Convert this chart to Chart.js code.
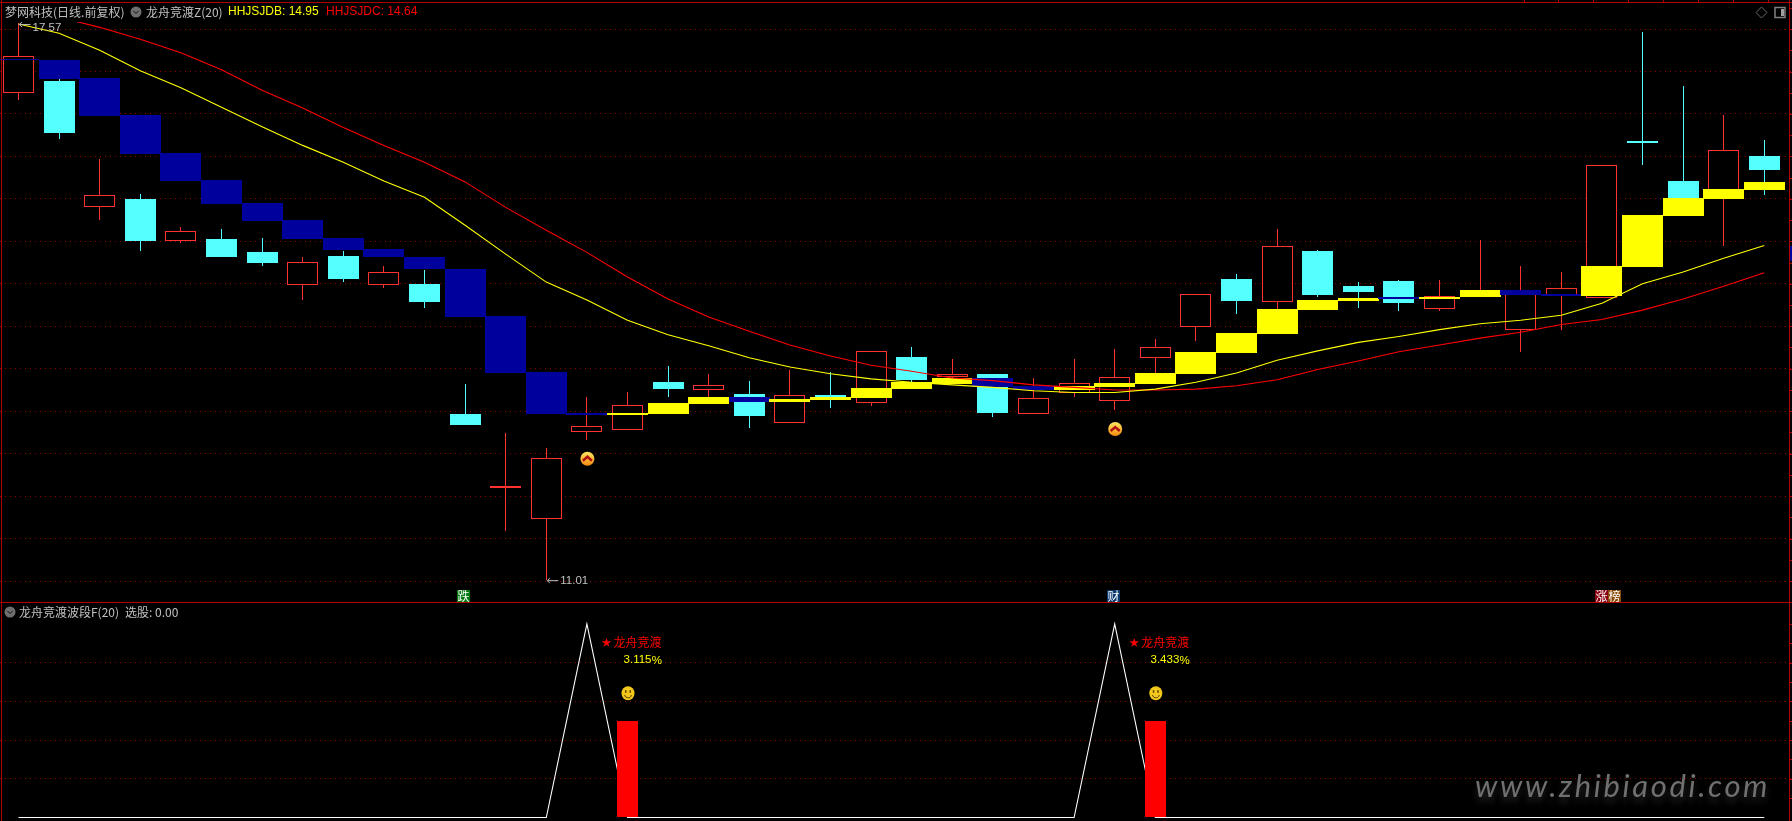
<!DOCTYPE html>
<html>
<head>
<meta charset="utf-8">
<title>龙舟竞渡</title>
<script src="https://cdn.jsdelivr.net/npm/chart.js@4/dist/chart.umd.min.js"></script>
<style>
html, body { margin: 0; padding: 0; background: #000; overflow: hidden; }
#wrapTop { position: absolute; left: 0; top: 0; width: 1792px; height: 603px; }
#wrapBottom { position: absolute; left: 0; top: 603px; width: 1792px; height: 218px; }
canvas { display: block; }
</style>
</head>
<body>
<div id="wrapTop"><canvas id="chartPrice"></canvas></div>
<div id="wrapBottom"><canvas id="chartBand"></canvas></div>
<script>
//Daily candles
const openPrices = [16.75, 16.89, 15.40, 15.50, 15.00, 15.03, 14.87, 14.49, 14.83, 14.49, 14.50, 12.97, 12.10, 11.73, 12.75, 12.78, 13.34, 13.25, 13.20, 12.86, 13.19, 13.10, 13.64, 13.40, 13.44, 12.97, 13.21, 13.12, 13.63, 13.99, 14.56, 14.29, 14.89, 14.47, 14.53, 14.20, 14.35, 13.96, 14.37, 14.33, 16.18, 15.71, 15.55, 16.00];
const closePrices = [17.18, 16.28, 15.55, 15.00, 15.12, 14.82, 14.74, 14.76, 14.56, 14.64, 14.28, 12.84, 12.12, 12.45, 12.83, 13.07, 13.26, 13.31, 12.94, 13.19, 13.13, 13.71, 13.37, 13.44, 12.98, 13.16, 13.33, 13.40, 13.76, 14.38, 14.30, 14.95, 14.37, 14.40, 14.27, 14.36, 14.43, 14.43, 14.45, 15.90, 16.16, 15.43, 16.07, 15.84];
const highPrices = [17.57, 16.91, 15.97, 15.56, 15.17, 15.15, 15.04, 14.82, 14.89, 14.71, 14.66, 13.32, 12.74, 12.57, 13.17, 13.22, 13.53, 13.44, 13.36, 13.49, 13.46, 13.71, 13.76, 13.61, 13.44, 13.39, 13.61, 13.73, 13.85, 14.38, 14.62, 15.15, 14.90, 14.52, 14.55, 14.55, 15.02, 14.71, 14.64, 15.90, 17.47, 16.83, 16.49, 16.19];
const lowPrices = [16.66, 16.21, 15.25, 14.89, 14.98, 14.82, 14.71, 14.31, 14.52, 14.45, 14.21, 12.84, 11.59, 11.01, 12.66, 12.78, 13.17, 13.17, 12.80, 12.86, 13.04, 13.06, 13.34, 13.32, 12.93, 12.97, 13.17, 13.01, 13.45, 13.83, 14.15, 14.20, 14.35, 14.21, 14.18, 14.18, 14.35, 13.70, 13.96, 14.33, 15.90, 15.43, 14.95, 15.54];

//Indicator blocks (blue when falling, yellow when rising)
const bandOpen = [17.15, 17.14, 16.92, 16.49, 16.04, 15.72, 15.45, 15.25, 15.04, 14.91, 14.82, 14.67, 14.12, 13.46, 12.98, 12.95, 12.97, 13.09, 13.17, 13.11, 13.13, 13.16, 13.26, 13.32, 13.39, 13.30, 13.25, 13.28, 13.32, 13.44, 13.69, 13.91, 14.19, 14.30, 14.34, 14.32, 14.34, 14.43, 14.38, 14.36, 14.70, 15.30, 15.50, 15.60];
const bandClose = [17.14, 16.91, 16.48, 16.03, 15.71, 15.44, 15.24, 15.03, 14.90, 14.81, 14.67, 14.11, 13.45, 12.97, 12.95, 12.98, 13.10, 13.17, 13.11, 13.14, 13.17, 13.27, 13.34, 13.39, 13.28, 13.25, 13.30, 13.33, 13.45, 13.70, 13.92, 14.20, 14.31, 14.33, 14.32, 14.35, 14.43, 14.37, 14.36, 14.71, 15.31, 15.51, 15.62, 15.70];

//Indicator lines
const hhjsjdb = [17.56, 17.45, 17.25, 17.01, 16.81, 16.58, 16.35, 16.13, 15.93, 15.71, 15.52, 15.19, 14.85, 14.52, 14.31, 14.07, 13.90, 13.77, 13.63, 13.52, 13.44, 13.38, 13.34, 13.31, 13.28, 13.24, 13.22, 13.22, 13.26, 13.34, 13.45, 13.60, 13.71, 13.81, 13.88, 13.96, 14.03, 14.07, 14.13, 14.27, 14.50, 14.64, 14.80, 14.95];
const hhjsjdc = [null, 17.64, 17.52, 17.38, 17.22, 17.02, 16.78, 16.57, 16.34, 16.13, 15.93, 15.70, 15.40, 15.13, 14.87, 14.58, 14.32, 14.11, 13.94, 13.78, 13.65, 13.54, 13.47, 13.39, 13.36, 13.31, 13.28, 13.25, 13.25, 13.26, 13.30, 13.37, 13.49, 13.59, 13.70, 13.78, 13.86, 13.93, 14.02, 14.08, 14.19, 14.32, 14.47, 14.63];

//Lower panel
const waveLine = [0, 0, 0, 0, 0, 0, 0, 0, 0, 0, 0, 0, 0, 0, 100, 0, 0, 0, 0, 0, 0, 0, 0, 0, 0, 0, 0, 100, 0, 0, 0, 0, 0, 0, 0, 0, 0, 0, 0, 0, 0, 0, 0, 0];
const signalDays = [15, 28];
const signalValues = [50, 50];
const signalGains = ["3.115", "3.433"];

//Markers and axis values
const arrowDays = [14, 27];
const arrowPrices = [12.44, 12.79];
const priceTicks = [11, 11.5, 12, 12.5, 13, 13.5, 14, 14.5, 15, 15.5, 16, 16.5, 17, 17.5];
const bandTicks = [20, 40, 60, 80];

const GRID = "#8a0000";
const FRAME = "#b00000";
const RED = "#ff3232";
const CYAN = "#54ffff";
const BLUE = "#00009c";
const YELLOW = "#ffff00";
const GRAY = "#c0c0c0";
const CJK = '"Noto Sans CJK SC", sans-serif';
const LATIN = '"Liberation Sans", sans-serif';

const days = openPrices.map((v, i) => i);
const toPoints = (a, b) => days.map((i) => ({ x: i, y: [a[i], b[i]] }));
const toLine = (a) => days.map((i) => ({ x: i, y: a[i] }));
const isUp = (a, b) => (i) => b[i] >= a[i];

// x scale shared by both panels: first candle at px 18.5, 40.6px per day
const xScale = { type: "linear", display: false, offset: false, min: -18.5 / 40.6, max: (1792 - 18.5) / 40.6 };

function yScale(min, max, ticks) {
    return {
        min: min,
        max: max,
        afterBuildTicks: (scale) => { scale.ticks = ticks.map((v) => ({ value: v })); },
        ticks: { display: false },
        border: { display: false, dash: [1, 4] },
        grid: { color: GRID, lineWidth: 1, drawTicks: false },
    };
}

const sharedOptions = {
    responsive: false,
    animation: false,
    events: [],
    layout: { padding: 0 },
    plugins: { legend: { display: false }, tooltip: { enabled: false } },
};

// bars land on whole pixels so the boxes stay crisp
const snapBars = {
    id: "snapBars",
    beforeDatasetsDraw(chart) {
        chart.data.datasets.forEach((ds, n) => {
            if (ds.type !== "bar") return;
            chart.getDatasetMeta(n).data.forEach((el) => {
                el.x = Math.floor(el.x) + 0.5;
                el.y = Math.round(el.y);
                el.base = Math.round(el.base);
            });
        });
    },
};

function text(ctx, str, x, y, color, font, align) {
    ctx.fillStyle = color;
    ctx.font = font;
    ctx.textAlign = align || "left";
    ctx.textBaseline = "middle";
    ctx.fillText(str, x, y);
}

function menuDot(ctx, x, y) {
    ctx.fillStyle = "#6e6e6e";
    ctx.beginPath();
    ctx.arc(x, y, 5.5, 0, Math.PI * 2);
    ctx.fill();
    ctx.strokeStyle = "#111";
    ctx.lineWidth = 1;
    ctx.beginPath();
    ctx.moveTo(x - 2.5, y - 1);
    ctx.lineTo(x, y + 1.5);
    ctx.lineTo(x + 2.5, y - 1);
    ctx.stroke();
}

function tag(ctx, str, x, color) {
    ctx.fillStyle = color;
    ctx.fillRect(x, 590, 13, 12);
    text(ctx, str, x + 6.5, 596, "#fff", "12px " + CJK, "center");
}

function extremeLabel(ctx, str, x, y, textDrop) {
    ctx.strokeStyle = GRAY;
    ctx.lineWidth = 1;
    ctx.beginPath();
    ctx.moveTo(x + 12, y + 0.5);
    ctx.lineTo(x + 1, y + 0.5);
    ctx.moveTo(x + 3.5, y - 2);
    ctx.lineTo(x + 1, y + 0.5);
    ctx.lineTo(x + 3.5, y + 3);
    ctx.stroke();
    text(ctx, str, x + 14, y + textDrop, GRAY, "11.5px " + LATIN);
}

function arrowBadge(ctx, x, y) {
    const g = ctx.createLinearGradient(0, y - 7, 0, y + 7);
    g.addColorStop(0, "#ffe860");
    g.addColorStop(1, "#f58a10");
    ctx.fillStyle = g;
    ctx.beginPath();
    ctx.arc(x, y, 7, 0, Math.PI * 2);
    ctx.fill();
    ctx.strokeStyle = "#b01010";
    ctx.lineWidth = 2.4;
    ctx.beginPath();
    ctx.moveTo(x - 4.5, y + 2);
    ctx.lineTo(x, y - 2);
    ctx.lineTo(x + 4.5, y + 2);
    ctx.stroke();
}

function smiley(ctx, x, y) {
    ctx.fillStyle = "#f2c81c";
    ctx.beginPath();
    ctx.ellipse(x, y, 6.5, 7, 0, 0, Math.PI * 2);
    ctx.fill();
    ctx.fillStyle = "#5a4000";
    ctx.fillRect(x - 3, y - 3, 1.5, 2.5);
    ctx.fillRect(x + 1.5, y - 3, 1.5, 2.5);
    ctx.strokeStyle = "#5a4000";
    ctx.lineWidth = 1;
    ctx.beginPath();
    ctx.arc(x, y + 1, 3.5, 0.2, Math.PI - 0.2);
    ctx.stroke();
}

const priceOverlay = {
    id: "priceOverlay",
    afterDraw(chart) {
        const ctx = chart.ctx;
        const sx = chart.scales.x;
        const sy = chart.scales.y;
        ctx.save();

        // frame and edge ticks
        ctx.fillStyle = FRAME;
        ctx.fillRect(0, 2, 1792, 1);
        ctx.fillRect(1, 0, 1, 603);
        ctx.fillRect(1789, 0, 1, 603);
        ctx.fillRect(0, 602, 1792, 1);
        for (let v = 11; v <= 17.75; v += 0.25) {
            ctx.fillRect(1790, Math.round(sy.getPixelForValue(v)), 2, 1);
        }
        [1524, 1558, 1593, 1628, 1663, 1698, 1733, 1768].forEach((x) => ctx.fillRect(x, 0, 1, 2));
        ctx.fillStyle = BLUE;
        ctx.fillRect(1790, 246, 2, 15);

        // header
        ctx.fillStyle = "#000";
        ctx.fillRect(3, 4, 420, 15);
        text(ctx, "梦网科技(日线.前复权)", 5, 12, GRAY, "12px " + CJK);
        menuDot(ctx, 136, 12);
        text(ctx, "龙舟竞渡Z(20)", 146, 12, GRAY, "12px " + CJK);
        text(ctx, "HHJSJDB: " + hhjsjdb[hhjsjdb.length - 1].toFixed(2), 228, 12, YELLOW, "12px " + LATIN);
        text(ctx, "HHJSJDC: 14.64", 326, 12, "#ff0000", "12px " + LATIN);

        // highest / lowest marks
        const hi = Math.max(...highPrices);
        const lo = Math.min(...lowPrices);
        extremeLabel(ctx, hi.toFixed(2), sx.getPixelForValue(highPrices.indexOf(hi)), sy.getPixelForValue(hi) + 1, 4);
        extremeLabel(ctx, lo.toFixed(2), sx.getPixelForValue(lowPrices.indexOf(lo)), sy.getPixelForValue(lo), 1);

        arrowDays.forEach((d, i) => arrowBadge(ctx, sx.getPixelForValue(d) + 0.5, sy.getPixelForValue(arrowPrices[i])));

        // event tags under the candles
        tag(ctx, "跌", 457, "#007a10");
        tag(ctx, "财", 1107, "#0a3a70");
        tag(ctx, "涨", 1595, "#8a0010");
        tag(ctx, "榜", 1608, "#8a4a08");

        // top right buttons
        ctx.strokeStyle = "#6a6a6a";
        ctx.lineWidth = 1;
        ctx.beginPath();
        ctx.moveTo(1761.5, 7);
        ctx.lineTo(1767, 12.5);
        ctx.lineTo(1761.5, 18);
        ctx.lineTo(1756, 12.5);
        ctx.closePath();
        ctx.stroke();
        ctx.strokeStyle = "#808080";
        ctx.lineWidth = 1.5;
        ctx.strokeRect(1775, 7.5, 10, 10);
        ctx.fillStyle = "#a0a0a0";
        ctx.fillRect(1781, 9, 3, 7);
        ctx.restore();
    },
};

const bandOverlay = {
    id: "bandOverlay",
    afterDraw(chart) {
        const ctx = chart.ctx;
        const sx = chart.scales.x;
        const sy = chart.scales.y;
        ctx.save();

        ctx.fillStyle = FRAME;
        ctx.fillRect(1, 0, 1, 218);
        ctx.fillRect(1789, 0, 1, 218);
        for (let v = 10; v <= 100; v += 10) {
            ctx.fillRect(1790, Math.round(sy.getPixelForValue(v)), 2, 1);
        }

        menuDot(ctx, 10, 9);
        text(ctx, "龙舟竞渡波段F(20)", 19, 9, GRAY, "12px " + CJK);
        text(ctx, "选股: 0.00", 125, 9, GRAY, "12px " + CJK);

        signalDays.forEach((d, i) => {
            const x = sx.getPixelForValue(d);
            text(ctx, "★", x - 26, sy.getPixelForValue(90.6), "#ff0000", "10px " + CJK);
            text(ctx, "龙舟竞渡", x + 34, sy.getPixelForValue(90.6), "#ff0000", "12px " + CJK, "right");
            text(ctx, signalGains[i], x + 24, sy.getPixelForValue(81.3), YELLOW, "11.5px " + LATIN, "right");
            text(ctx, "%", x + 34.5, sy.getPixelForValue(80.8), YELLOW, "11.5px " + LATIN, "right");
            smiley(ctx, x + 0.5, sy.getPixelForValue(64.2));
        });

        // watermark
        ctx.font = 'italic 31px "Lato", sans-serif';
        ctx.letterSpacing = "2.6px";
        ctx.textAlign = "left";
        ctx.textBaseline = "alphabetic";
        ctx.shadowColor = "rgba(120,120,120,0.35)";
        ctx.shadowBlur = 7;
        ctx.shadowOffsetY = 5;
        ctx.fillStyle = "#707070";
        ctx.fillText("www.zhibiaodi.com", 1475, 194);
        ctx.restore();
    },
};

//Price panel
const configPrice = {
    type: "bar",
    data: {
        datasets: [
            {
                type: "bar",
                label: "wick",
                data: toPoints(lowPrices, highPrices),
                barThickness: 1,
                inflateAmount: 0,
                grouped: false,
                backgroundColor: days.map((i) => (isUp(openPrices, closePrices)(i) ? RED : CYAN)),
                order: 6,
            },
            {
                type: "bar",
                label: "body",
                data: toPoints(openPrices, closePrices),
                barThickness: 31,
                inflateAmount: 0,
                grouped: false,
                borderSkipped: false,
                borderWidth: days.map((i) => (isUp(openPrices, closePrices)(i) ? 1 : 0)),
                borderColor: RED,
                backgroundColor: days.map((i) => (isUp(openPrices, closePrices)(i) ? "#000" : CYAN)),
                order: 5,
            },
            {
                type: "bar",
                label: "龙舟竞渡",
                data: toPoints(bandOpen, bandClose),
                barThickness: 41,
                inflateAmount: 0,
                grouped: false,
                borderWidth: 0,
                backgroundColor: days.map((i) => (isUp(bandOpen, bandClose)(i) ? YELLOW : BLUE)),
                order: 4,
            },
            {
                type: "line",
                label: "HHJSJDC",
                data: toLine(hhjsjdc),
                borderColor: "#ff0000",
                borderWidth: 1.1,
                pointRadius: 0,
                tension: 0,
                clip: { left: 0, top: -22, right: 0, bottom: 0 },
                order: 2,
            },
            {
                type: "line",
                label: "HHJSJDB",
                data: toLine(hhjsjdb),
                borderColor: YELLOW,
                borderWidth: 1.1,
                pointRadius: 0,
                tension: 0,
                order: 1,
            },
        ],
    },
    options: Object.assign({}, sharedOptions, {
        scales: { x: xScale, y: yScale(17.842 - 603 * 0.011776, 17.842, priceTicks) },
    }),
    plugins: [snapBars, priceOverlay],
};

//Lower panel
const configBand = {
    type: "bar",
    data: {
        datasets: [
            {
                type: "line",
                label: "波段",
                data: toLine(waveLine),
                borderColor: "#ffffff",
                borderWidth: 1.1,
                pointRadius: 0,
                tension: 0,
                order: 2,
            },
            {
                type: "bar",
                label: "选股",
                data: signalDays.map((d, i) => ({ x: d, y: signalValues[i] })),
                barThickness: 21,
                inflateAmount: 0,
                borderWidth: 0,
                backgroundColor: "#ff0000",
                order: 1,
            },
        ],
    },
    options: Object.assign({}, sharedOptions, {
        scales: { x: xScale, y: yScale(-1.81, 110.85, bandTicks) },
    }),
    plugins: [snapBars, bandOverlay],
};

document.getElementById("chartPrice").width = 1792;
document.getElementById("chartPrice").height = 603;
document.getElementById("chartBand").width = 1792;
document.getElementById("chartBand").height = 218;

var chartPrice = new Chart(document.getElementById("chartPrice"), configPrice);
var chartBand = new Chart(document.getElementById("chartBand"), configBand);
</script>
</body>
</html>
